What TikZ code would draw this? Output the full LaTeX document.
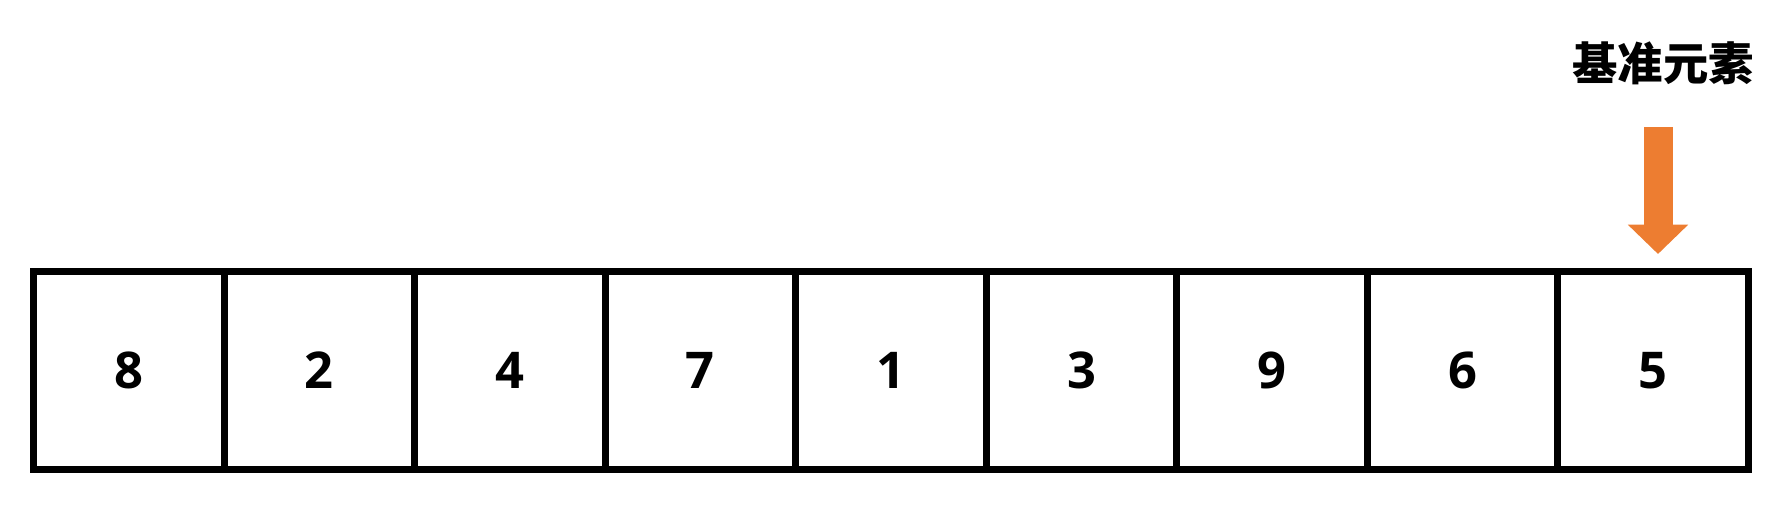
\documentclass[tikz,border=0pt]{standalone}
\usepackage{fontspec}
\setmainfont{Open Sans}
\newfontfamily\cjk{Noto Sans CJK SC}
\usetikzlibrary{arrows.meta}
\definecolor{pivot}{HTML}{ED7D31}
\tikzset{
  cell/.style={draw=black, line width=5.25pt, minimum width=142.9pt, minimum height=148.5pt,
    inner sep=0pt, font=\fontsize{38}{42}\selectfont\bfseries},
  pivotarrow/.style={pivot, line width=21.75pt, -{Triangle[width=44pt,length=22pt]}},
  label/.style={font=\cjk\fontsize{34}{38}\selectfont\bfseries, inner sep=0pt}
}
\begin{document}
\begin{tikzpicture}[x=0.75pt,y=-0.75pt]
\useasboundingbox (0,0) rectangle (1782,528);
\foreach \v [count=\i] in {8,2,4,7,1,3,9,6,5}{
  \node[cell] (c\i) at ({33.5+190.55*(\i-0.5)},370.5) {\v};
}
\node[label] (lbl) at (1663,63) {基准元素};
\coordinate (as) at (1658,127);
\coordinate (ae) at (1658,254);
\draw[pivotarrow] (as) -- (ae);
\end{tikzpicture}
\end{document}
